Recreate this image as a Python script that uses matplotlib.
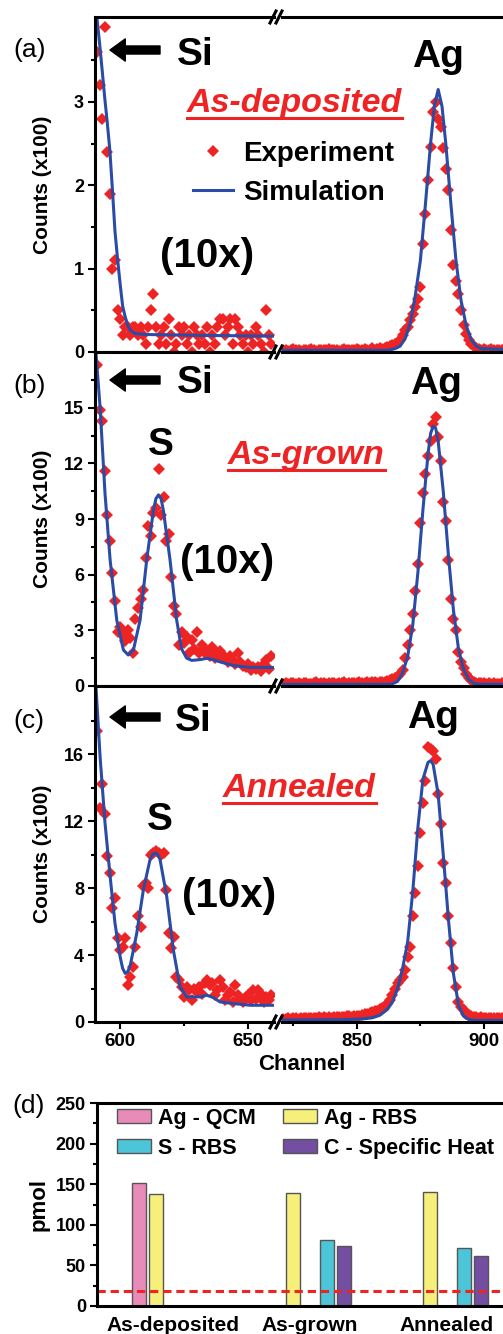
import numpy as np
import matplotlib
matplotlib.use('Agg')
import matplotlib.pyplot as plt
from matplotlib.lines import Line2D
from matplotlib.patches import Patch

plt.rcParams['font.family'] = ['Liberation Sans', 'DejaVu Sans']
plt.rcParams['font.weight'] = 'bold'
plt.rcParams['axes.labelweight'] = 'bold'
plt.rcParams['axes.linewidth'] = 2.2

RED = '#ee2424'
BLUE = '#2a4ca6'
W, H = 503, 1334

# ---------------- spectra data (counts x100) ----------------
left_ch = np.arange(591, 660)
right_ch = np.arange(821, 910)

a_exp_left = [3.6, 3.2, 2.8, 3.9, 2.4, 1.9, 1.0, 1.1, 0.5, 0.4,
              0.2, 0.3, 0.3, 0.2, 0.3, 0.3, 0.2, 0.3, 0.2, 0.1,
              0.3, 0.5, 0.7, 0.3, 0.1, 0.2, 0.3, 0.1, 0.4, 0.2,
              0.0, 0.1, 0.3, 0.2, 0.3, 0.1, 0.2, 0.0, 0.3, 0.2,
              0.1, 0.2, 0.1, 0.3, 0.0, 0.2, 0.1, 0.3, 0.4, 0.4,
              0.2, 0.3, 0.4, 0.1, 0.4, 0.3, 0.2, 0.1, 0.2, 0.0,
              0.2, 0.1, 0.3, 0.2, 0.1, 0.0, 0.5, 0.2, 0.1]
a_exp_right = [0.02, 0.03, 0.01, 0.02, 0.04, 0.02, 0.03, 0.01, 0.02, 0.03,
               0.02, 0.04, 0.02, 0.01, 0.03, 0.02, 0.03, 0.02, 0.04, 0.02,
               0.03, 0.02, 0.01, 0.03, 0.04, 0.02, 0.03, 0.02, 0.03, 0.04,
               0.02, 0.03, 0.04, 0.02, 0.03, 0.05, 0.03, 0.04, 0.05, 0.04,
               0.05, 0.06, 0.07, 0.08, 0.10, 0.12, 0.15, 0.20, 0.26, 0.30,
               0.38, 0.46, 0.54, 0.64, 0.78, 1.30, 1.66, 2.06, 2.46, 2.88,
               3.00, 2.80, 2.70, 2.45, 2.20, 1.94, 1.46, 1.04, 0.85, 0.70,
               0.50, 0.33, 0.22, 0.15, 0.10, 0.07, 0.05, 0.04, 0.03, 0.04,
               0.02, 0.03, 0.04, 0.02, 0.03, 0.02, 0.03, 0.04, 0.02]
a_sim_left_ch = [590.2, 591, 592, 593, 594, 595, 596, 597, 598, 599, 600,
                 601, 602, 603, 604, 606, 610, 630, 660.1]
a_sim_left = [4.35, 4.0, 3.7, 3.38, 3.05, 2.75, 2.42, 1.95, 1.45, 1.12, 0.82,
              0.55, 0.42, 0.32, 0.26, 0.22, 0.21, 0.20, 0.19]
a_sim_right_ch = [820.5, 862, 865, 867, 869, 871, 873, 875, 877, 879, 880.5,
                  882, 883.5, 885, 887, 889, 891, 893, 895, 897, 899, 922]
a_sim_right = [0.02, 0.02, 0.04, 0.07, 0.16, 0.35, 0.68, 1.10, 1.78, 2.50, 2.95,
               3.15, 2.95, 2.50, 1.78, 1.10, 0.62, 0.32, 0.15, 0.07, 0.04, 0.02]

b_exp_left = [17.3, 14.9, 14.3, 11.6, 9.2, 7.8, 6.1, 4.6, 2.9, 3.2,
              2.8, 2.4, 3.0, 2.6, 1.8, 3.6, 4.2, 4.7, 5.2, 6.9,
              8.6, 8.1, 9.3, 9.6, 11.7, 9.2, 10.2, 7.8, 8.2, 5.9,
              4.3, 3.9, 2.2, 2.9, 2.3, 2.65, 1.8, 2.5, 2.0, 2.9,
              1.76, 2.2, 1.76, 1.9, 1.6, 2.1, 1.5, 1.76, 1.9, 1.5,
              1.58, 1.3, 1.6, 1.4, 1.2, 1.76, 1.3, 1.1, 1.04, 1.2,
              0.86, 1.0, 0.9, 1.04, 0.8, 1.2, 1.4, 0.9, 1.6]
b_exp_right = [0.12, 0.16, 0.10, 0.14, 0.18, 0.13, 0.15, 0.11, 0.17, 0.14,
               0.13, 0.10, 0.16, 0.19, 0.12, 0.15, 0.17, 0.11, 0.14, 0.18,
               0.15, 0.12, 0.17, 0.14, 0.20, 0.13, 0.16, 0.18, 0.14, 0.17,
               0.19, 0.15, 0.18, 0.21, 0.16, 0.19, 0.22, 0.18, 0.21, 0.24,
               0.22, 0.27, 0.30, 0.36, 0.42, 0.52, 0.66, 0.86, 1.49, 2.20,
               3.00, 3.90, 5.10, 6.60, 8.80, 10.40, 11.40, 12.40, 13.20, 14.10,
               14.50, 13.40, 12.10, 9.90, 8.90, 6.80, 4.70, 3.60, 3.00, 1.85,
               1.30, 0.95, 0.62, 0.42, 0.30, 0.22, 0.18, 0.16, 0.14, 0.15,
               0.13, 0.15, 0.12, 0.14, 0.13, 0.12, 0.15, 0.13, 0.14]
b_sim_left_ch = [590.2, 592.2, 594.1, 596.1, 598.7, 601.3, 603.2, 605.2, 607.8,
                 610.4, 613, 614, 615, 616, 616.9, 619.5, 622.1, 624, 626, 628,
                 631, 633.9, 636.5, 639, 644.3, 650.8, 660.1]
b_sim_left = [18.6, 15.0, 10.4, 6.8, 3.55, 1.94, 1.67, 1.94, 3.55,
              6.8, 9.46, 10.1, 10.3, 10.1, 9.46, 6.8, 3.55, 2.0, 1.5, 1.38,
              1.42, 1.49, 1.42, 1.3, 1.1, 1.0, 1.0]
b_sim_right_ch = [820.5, 862, 864, 866, 868, 870, 872, 874, 876, 878, 879, 880,
                  881, 882, 884, 886, 888, 890, 892, 894, 896, 898, 922]
b_sim_right = [0.09, 0.09, 0.12, 0.25, 0.7, 1.6, 3.3, 6.1, 9.5, 12.5, 13.6, 14.0,
               13.9, 13.2, 10.5, 7.1, 4.1, 2.0, 0.9, 0.35, 0.15, 0.1, 0.09]

c_exp_left = [17.4, 12.8, 14.2, 12.4, 9.9, 8.9, 6.8, 7.4, 5.0, 4.3,
              4.5, 5.0, 2.2, 2.7, 3.3, 4.5, 6.3, 5.7, 8.1, 8.3,
              8.0, 10.0, 10.1, 10.2, 10.1, 10.0, 10.1, 7.9, 5.3, 4.4,
              5.1, 2.7, 2.5, 2.1, 1.5, 2.1, 1.9, 1.3, 2.0, 1.8,
              2.1, 1.7, 2.3, 2.5, 2.2, 2.3, 1.6, 1.9, 2.5, 2.1,
              1.3, 1.6, 1.8, 1.2, 2.2, 1.6, 1.4, 1.2, 1.5, 1.6,
              1.3, 1.9, 1.4, 1.9, 1.7, 1.2, 1.5, 1.3, 1.6]
c_exp_right = [0.20, 0.17, 0.22, 0.19, 0.21, 0.24, 0.20, 0.22, 0.25, 0.21,
               0.23, 0.26, 0.22, 0.24, 0.27, 0.23, 0.28, 0.25, 0.29, 0.26,
               0.28, 0.31, 0.27, 0.31, 0.29, 0.33, 0.35, 0.31, 0.36, 0.38,
               0.38, 0.42, 0.45, 0.48, 0.53, 0.58, 0.63, 0.68, 0.76, 0.85,
               0.95, 1.10, 1.30, 1.60, 2.00, 2.30, 2.50, 2.70, 3.10, 3.90,
               4.50, 6.30, 7.70, 9.30, 11.30, 13.10, 14.40, 16.40, 16.30, 16.20,
               15.70, 13.60, 11.80, 9.50, 8.30, 6.30, 4.70, 3.20, 2.10, 1.20,
               0.90, 0.70, 0.50, 0.40, 0.35, 0.30, 0.28, 0.26, 0.27, 0.25,
               0.24, 0.26, 0.23, 0.25, 0.24, 0.26, 0.23, 0.25, 0.24]
c_sim_left_ch = [590.2, 592.2, 594.1, 596.1, 598, 600, 601, 602, 603, 604,
                 606.5, 609.1, 611.7, 612.7, 613.7, 614.7, 615.6, 618.2, 620.8, 623.4,
                 626.1, 631.3, 633.9, 636.5, 639, 644.3, 650.8, 660.1]
c_sim_left = [21.0, 15.8, 11.9, 8.7, 5.9, 3.9, 3.2, 2.9, 3.0, 3.4,
              5.3, 7.9, 9.7, 10.0, 10.1, 10.0, 9.7, 7.5, 4.3, 2.1,
              1.5, 1.5, 1.6, 1.45, 1.2, 1.1, 1.0, 1.0]
c_sim_right_ch = [820.5, 845, 852, 856, 859, 862, 864, 866, 868, 870, 872, 874,
                  876, 878, 879, 880, 882, 884, 886, 888, 890, 892, 894, 897, 922]
c_sim_right = [0.12, 0.14, 0.18, 0.25, 0.4, 0.75, 1.2, 2.0, 3.2, 4.8, 7.8, 11.6,
               14.5, 15.5, 15.6, 15.4, 13.6, 10.0, 6.2, 2.9, 1.0, 0.35, 0.15, 0.1, 0.1]

# ---------------- bar chart data (pmol) ----------------
categories = ['As-deposited', 'As-grown', 'Annealed']
ag_qcm = [151, np.nan, np.nan]
ag_rbs = [138, 139.6, 141]
s_rbs = [np.nan, 81, 72]
c_heat = [np.nan, 74, 61]
detection_limit = 18.5


fig = plt.figure(figsize=(W / 100, H / 100), dpi=100)


def fx(px):
    return px / W


def fy(py):
    return 1 - py / H


def box(left, top, right, bottom):
    return [fx(left), fy(bottom), (right - left) / W, (bottom - top) / H]


def ticks(ax):
    ax.tick_params(which='both', direction='out', width=1.5, labelsize=13, pad=3)
    ax.tick_params(which='major', length=5)
    ax.tick_params(which='minor', length=3)


panels = [
    dict(rows=(17, 352), ylim=4.02, major=[0, 1, 2, 3], minor=np.arange(0.5, 4, 1.0),
         exp_l=a_exp_left, exp_r=a_exp_right,
         sim_l=(a_sim_left_ch, a_sim_left), sim_r=(a_sim_right_ch, a_sim_right),
         tag=('(a)', 57), arrow=50, si=(177, 65), s=None, ag=(412, 67),
         title=('As-deposited', 187, 112), tenx=(160, 267)),
    dict(rows=(352, 686), ylim=18, major=[0, 3, 6, 9, 12, 15], minor=np.arange(1.5, 18, 3.0),
         exp_l=b_exp_left, exp_r=b_exp_right,
         sim_l=(b_sim_left_ch, b_sim_left), sim_r=(b_sim_right_ch, b_sim_right),
         tag=('(b)', 393), arrow=380, si=(177, 393), s=(148, 455), ag=(410, 394),
         title=('As-grown', 228, 464), tenx=(180, 573)),
    dict(rows=(686, 1022), ylim=20.06, major=[0, 4, 8, 12, 16], minor=np.arange(2, 20, 4),
         exp_l=c_exp_left, exp_r=c_exp_right,
         sim_l=(c_sim_left_ch, c_sim_left), sim_r=(c_sim_right_ch, c_sim_right),
         tag=('(c)', 728), arrow=717, si=(175, 731), s=(147, 830), ag=(407, 728),
         title=('Annealed', 223, 797), tenx=(182, 907)),
]

titles = []
for i, p in enumerate(panels):
    top, bottom = p['rows']
    axl = fig.add_axes(box(95, top, 274, bottom))
    axr = fig.add_axes(box(282, top, 540, bottom))
    axl.set_xlim(590.2, 660.1)
    axr.set_xlim(820.5, 922.1)
    for ax in (axl, axr):
        ax.set_ylim(0, p['ylim'])
        ticks(ax)
    axl.spines['right'].set_visible(False)
    axr.spines['left'].set_visible(False)
    axr.tick_params(axis='y', which='both', left=False, labelleft=False)

    axl.plot(left_ch, p['exp_l'], ls='none', marker='D', ms=6, color=RED, mew=0)
    axr.plot(right_ch, p['exp_r'], ls='none', marker='D', ms=6, color=RED, mew=0)
    axl.plot(*p['sim_l'], color=BLUE, lw=2.2)
    axr.plot(*p['sim_r'], color=BLUE, lw=2.2)

    axl.set_yticks(p['major'])
    axl.set_yticks(p['minor'], minor=True)
    axl.set_ylabel('Counts (x100)', fontsize=15)
    axl.yaxis.set_label_coords(-0.24, 0.5)

    if i < 2:
        for ax in (axl, axr):
            ax.tick_params(axis='x', which='both', bottom=False, labelbottom=False)
    else:
        axl.set_xticks([600, 650])
        axl.set_xticks([625], minor=True)
        axr.set_xticks([850, 900])
        axr.set_xticks([825, 875], minor=True)
        for ax in (axl, axr):
            ax.tick_params(axis='x', labelsize=13.5, pad=3)

    tag, tb = p['tag']
    fig.text(fx(13), fy(tb), tag, fontsize=19, fontweight='normal', va='baseline')
    axl.annotate('', xy=(fx(110), fy(p['arrow'])), xytext=(fx(160), fy(p['arrow'])),
                 xycoords='figure fraction', textcoords='figure fraction',
                 arrowprops=dict(width=5.8, headwidth=16, headlength=11, color='black', shrink=0))
    fig.text(fx(p['si'][0]), fy(p['si'][1]), 'Si', fontsize=28, va='baseline')
    if p['s'] is not None:
        fig.text(fx(p['s'][0]), fy(p['s'][1]), 'S', fontsize=28, va='baseline')
    fig.text(fx(p['ag'][0]), fy(p['ag'][1]), 'Ag', fontsize=28, va='baseline')
    fig.text(fx(p['tenx'][0]), fy(p['tenx'][1]), '(10x)', fontsize=29, va='baseline')
    name, tx, tyb = p['title']
    t = fig.text(fx(tx), fy(tyb), name, fontsize=24.5, style='italic', color=RED, va='baseline')
    titles.append((t, tyb))

fig.legend(handles=[Line2D([], [], ls='none', marker='D', ms=6, color=RED, mew=0),
                    Line2D([], [], color=BLUE, lw=2.2)],
           labels=['Experiment', 'Simulation'], loc='upper left',
           bbox_to_anchor=(fx(193), fy(141)), frameon=False, fontsize=20,
           handlelength=1.45, handletextpad=0.35, labelspacing=0.45,
           borderpad=0, borderaxespad=0)

fig.text(fx(302), fy(1070), 'Channel', fontsize=16, ha='center', va='baseline')

# axis break marks
for yb in [17, 352, 686, 1022]:
    for xb in [273, 279]:
        fig.add_artist(Line2D([fx(xb - 3), fx(xb + 3)], [fy(yb + 6), fy(yb - 6)],
                              transform=fig.transFigure, color='black', lw=2.2))

# ---------------- panel (d) ----------------
axd = fig.add_axes(box(97, 1103, 540, 1306))
x = np.arange(len(categories))
slot, width = 0.124, 0.102
edge = '#555555'
axd.bar(x - 2 * slot, ag_qcm, width, color='#e98bb9', edgecolor=edge, lw=1, label='Ag - QCM')
axd.bar(x - slot, ag_rbs, width, color='#f6ef7a', edgecolor=edge, lw=1, label='Ag - RBS')
axd.bar(x + slot, s_rbs, width, color='#4cc5d8', edgecolor=edge, lw=1, label='S - RBS')
axd.bar(x + 2 * slot, c_heat, width, color='#744ea0', edgecolor=edge, lw=1, label='C - Specific Heat')
axd.axhline(detection_limit, color=RED, lw=2.2, ls=(0, (2.7, 1.6)))
axd.set_xlim(-0.551, 2.68)
axd.set_ylim(0, 250)
axd.set_yticks(np.arange(0, 251, 50))
axd.set_yticks(np.arange(25, 250, 50), minor=True)
ticks(axd)
axd.set_xticks(x, categories)
axd.tick_params(axis='x', length=0, pad=7, labelsize=15)
axd.spines['right'].set_visible(False)
axd.set_ylabel('pmol', fontsize=16)
axd.yaxis.set_label_coords(-0.106, 0.5)
fig.text(fx(12), fy(1113), '(d)', fontsize=19, fontweight='normal', va='baseline')

h, l = axd.get_legend_handles_labels()
order = [0, 2, 1, 3]
fig.legend([h[k] for k in order], [l[k] for k in order], ncol=2, loc='upper left',
           bbox_to_anchor=(fx(117), fy(1108)), frameon=False, fontsize=15.5,
           handlelength=1.6, handleheight=0.62, handletextpad=0.3,
           columnspacing=1.25, labelspacing=0.42, borderpad=0, borderaxespad=0)

# underline the red sample names
fig.canvas.draw()
renderer = fig.canvas.get_renderer()
for t, base in titles:
    bb = t.get_window_extent(renderer)
    fig.add_artist(Line2D([bb.x0 / W, bb.x1 / W], [fy(base + 6), fy(base + 6)],
                          transform=fig.transFigure, color=RED, lw=2.2))

fig.savefig('out.png', dpi=100)
